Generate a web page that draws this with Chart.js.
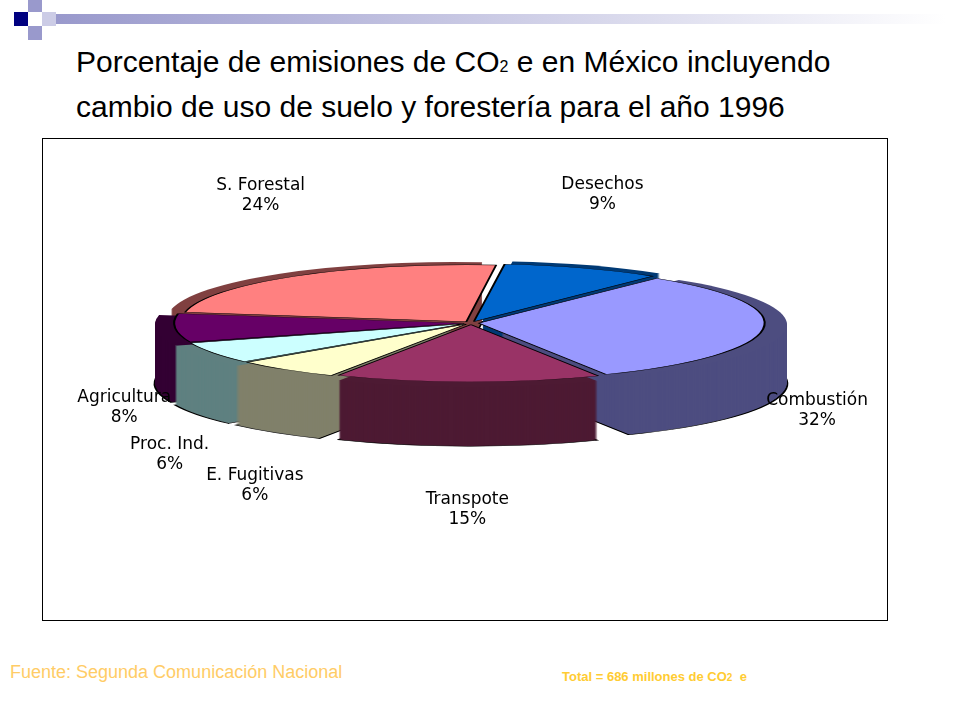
<!DOCTYPE html>
<html><head><meta charset="utf-8">
<script src="https://cdn.jsdelivr.net/npm/chart.js@4/dist/chart.umd.min.js"></script>
<style>
body{margin:0;width:960px;height:720px;background:#fff;position:relative;font-family:"Liberation Sans",Arial,sans-serif;overflow:hidden}
#title{position:absolute;left:76px;top:42px;font-size:30px;line-height:40px;color:#000}
#box{position:absolute;left:42px;top:138px;width:844px;height:481px;border:1px solid #000}
#fuente{position:absolute;left:10px;top:662px;font-size:18px;color:#FFCC66}
#total{position:absolute;left:562px;top:669px;font-size:13px;font-weight:bold;color:#FFCC33}
.sq{position:absolute}
</style></head><body>
<div class="sq" style="left:14px;top:12px;width:14px;height:14px;background:#000080"></div>
<div class="sq" style="left:28px;top:0;width:14px;height:12px;background:#9999CC"></div>
<div class="sq" style="left:28px;top:26px;width:14px;height:14px;background:#9999CC"></div>
<div class="sq" style="left:42px;top:12px;width:14px;height:14px;background:#CCCCE6"></div>
<div class="sq" style="left:56px;top:14px;width:890px;height:10px;background:linear-gradient(to right,#9999CC,#fff)"></div>
<div id="title">Porcentaje de emisiones de CO<span style="font-size:16px">2</span> e en México incluyendo<br>cambio de uso de suelo y forestería para el año 1996</div>
<div id="box"><canvas id="c" width="844" height="481"></canvas></div>
<div id="fuente">Fuente: Segunda Comunicación Nacional</div>
<div id="total">Total = 686 millones de CO<span style="font-size:10px">2</span>&nbsp; e</div>
<script>
const categories = ["Desechos", "Combustión", "Transpote", "E. Fugitivas", "Proc. Ind.", "Agricultura", "S. Forestal"];
const values = [9, 32, 15, 6, 6, 8, 24];
const topColors = ["#0066CC", "#9999FF", "#993366", "#FFFFCC", "#CCFFFF", "#660066", "#FF8080"];
const sideColors = ["#003A75", "#4D4D80", "#4D1A33", "#80806A", "#5F8080", "#330033", "#804040"];

const SX = 1.4, SY = 0.28, DEPTH = 60, CX = 428, CY = 184;
function setView(chart, ctx, dy) {
  const a = chart.getDatasetMeta(0).data[0];
  ctx.setTransform(1, 0, 0, 1, 0, 0);
  ctx.translate(CX, CY + dy);
  ctx.scale(SX, SY);
  ctx.translate(-a.x, -a.y);
}
function arcPath(ctx, el) {
  const mid = (el.startAngle + el.endAngle) / 2;
  const off = el.options.offset || 0;
  const x = el.x + Math.cos(mid) * off, y = el.y + Math.sin(mid) * off;
  ctx.beginPath();
  ctx.moveTo(x, y);
  ctx.arc(x, y, el.outerRadius, el.startAngle, el.endAngle);
  ctx.closePath();
}
const pie3d = {
  id: "pie3d",
  beforeDatasetsDraw(chart) {
    const ctx = chart.ctx, els = chart.getDatasetMeta(0).data;
    ctx.save();
    for (let d = DEPTH; d >= 1; d--) {
      setView(chart, ctx, d);
      els.forEach((el, i) => {
        arcPath(ctx, el);
        ctx.fillStyle = sideColors[i];
        ctx.fill();
        if (d === DEPTH) { ctx.strokeStyle = "#000"; ctx.lineWidth = 2; ctx.stroke(); }
      });
    }
    setView(chart, ctx, 0);
  },
  afterDatasetsDraw(chart) {
    chart.ctx.restore();
    const ctx = chart.ctx, els = chart.getDatasetMeta(0).data;
    ctx.save();
    ctx.font = "17px 'DejaVu Sans', Verdana, sans-serif";
    ctx.fillStyle = "#000";
    ctx.textAlign = "center";
    els.forEach((el, i) => {
      const mid = (el.startAngle + el.endAngle) / 2;
      const r = el.outerRadius * 1.22;
      const x = CX + Math.cos(mid) * r * SX;
      let y = CY + Math.sin(mid) * r * SY * 1.6;
      if (Math.sin(mid) > 0) y += DEPTH + 10; else y -= 8 + Math.abs(Math.cos(mid)) * 60;
      ctx.fillText(categories[i], x, y);
      ctx.fillText(values[i] + "%", x, y + 20);
    });
    ctx.restore();
  }
};
new Chart(document.getElementById("c"), {
  type: "pie",
  data: { labels: categories, datasets: [{ data: values, backgroundColor: topColors, borderColor: "#000", borderWidth: 1.5, offset: 22 }] },
  options: {
    responsive: false, animation: false, rotation: 6,
    layout: { padding: 25 },
    plugins: { legend: { display: false }, tooltip: { enabled: false } }
  },
  plugins: [pie3d]
});
</script>
</body></html>
